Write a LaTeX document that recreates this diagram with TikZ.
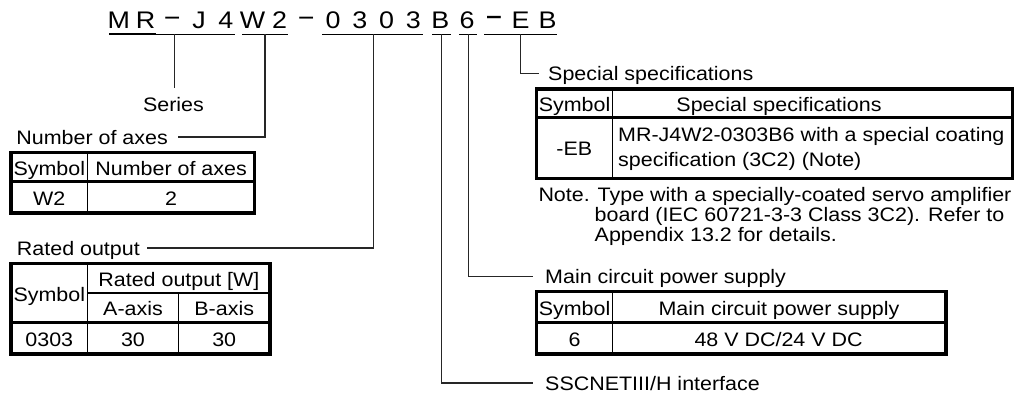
\documentclass[tikz,border=0pt]{standalone}
\usepackage{fontspec}
\usepackage{graphicx}
\setmainfont[FakeStretch=1.1]{Liberation Sans}
\newfontfamily\titlefont[FakeStretch=1.12]{Liberation Sans}
\newcommand{\mtc}[1]{\makebox[26.8pt]{#1}}
\newcommand{\mtdash}{\makebox[26.8pt]{\raisebox{4.2pt}{\scalebox{2.1}[1]{-}}}}
\newcommand{\mtdashb}{\makebox[26.8pt]{\raisebox{2.6pt}{\scalebox{2.1}[1.25]{-}}}}
\begin{document}
\begin{tikzpicture}[x=1pt,y=-1pt,
  conn/.style={draw=black!85, line width=1.3pt},
  uline/.style={line width=1.4pt},
  ulthick/.style={line width=2.4pt},
  outerbox/.style={line width=3.5pt, line join=miter},
  thickdiv/.style={line width=3pt},
  thindiv/.style={line width=1.3pt},
  txt/.style={inner sep=0pt, anchor=base, font=\fontsize{19.5pt}{25pt}\selectfont},
  ltxt/.style={inner sep=0pt, anchor=base west, font=\fontsize{19.5pt}{25pt}\selectfont},
  lblw/.style={inner ysep=0pt, inner xsep=10pt, text height=14pt, text depth=0pt, anchor=base west, font=\fontsize{19.5pt}{25pt}\selectfont},
  lble/.style={inner ysep=0pt, inner xsep=10pt, text height=14pt, text depth=0pt, anchor=base east, font=\fontsize{19.5pt}{25pt}\selectfont}
]
\useasboundingbox (0,0) rectangle (1019,396);

% Title
\node[inner sep=0pt, anchor=base west, font=\titlefont\fontsize{24pt}{24pt}\selectfont] (title) at (105.1,28.3)
 {\mtc{M}\mtc{R}\mtdash\mtc{J}\mtc{4}\mtc{W}\mtc{2}\mtdash\mtc{0}\mtc{3}\mtc{0}\mtc{3}\mtc{B}\mtc{6}\mtdashb\mtc{E}\mtc{B}};

% underlines
\draw[uline] (109,34.3) -- (235,34.3);
\draw[ulthick] (109,34.3) -- (156,34.3);
\draw[uline] (242,34.3) -- (288,34.3);
\draw[uline] (322,34.3) -- (423,34.3);
\draw[uline] (432,34.3) -- (451,34.3);
\draw[uline] (459,34.3) -- (477,34.3);
\draw[uline] (484,34.3) -- (557,34.3);

\coordinate (uSer) at (174.3,34.3);
\coordinate (uAx) at (265,34.3);
\coordinate (uOut) at (373.3,34.3);
\coordinate (uIf) at (441.7,34.3);
\coordinate (uPs) at (468.3,34.3);
\coordinate (uSp) at (520.7,34.3);

% labels
\node[inner xsep=0pt, inner ysep=9pt, text height=14pt, text depth=0pt, anchor=base, font=\fontsize{19.5pt}{25pt}\selectfont] (series) at (173.5,111) {Series};
\node[lble] (noa) at (178,144) {Number of axes};
\node[lble, inner xsep=7pt] (rol) at (147,255) {Rated output};
\node[lblw, inner xsep=9pt] (spl) at (539,80.7) {Special specifications};
\node[lblw, inner xsep=12pt] (mcl) at (533,283.3) {Main circuit power supply};
\node[lblw, inner xsep=12pt] (ifl) at (533,390) {SSCNETIII/H interface};

% connectors
\draw[conn] (uSer) -- (uSer |- series.north);
\draw[conn] (uAx) |- (noa.east);
\draw[conn] (uOut) |- (rol.east);
\draw[conn, line width=1.1pt] (uSp) |- (spl.west);
\draw[conn] (uPs) |- (mcl.west);
\draw[conn] (uIf) |- (ifl.west);

% Table 1: number of axes
\draw[thindiv] (87.7,152.5) -- (87.7,213);
\draw[thickdiv] (11,181.5) -- (254.5,181.5);
\draw[outerbox] (11,152.5) rectangle (254.5,213);
\node[txt] (t1h1) at (49.3,175) {Symbol};
\node[txt] (t1h2) at (171.1,175) {Number of axes};
\node[txt] (t1c1) at (49.3,205.3) {W2};
\node[txt] (t1c2) at (171.1,205.3) {2};

% Table 2: rated output
\draw[thindiv] (87.7,263.5) -- (87.7,354);
\draw[thindiv] (87.7,293) -- (270,293);
\draw[thindiv] (178.3,293) -- (178.3,354);
\draw[thickdiv] (11,322.5) -- (270,322.5);
\draw[outerbox] (11,263.5) rectangle (270,354);
\node[txt] (t2h1) at (49.3,301.5) {Symbol};
\node[txt] (t2h2) at (178.9,286.5) {Rated output [W]};
\node[txt] (t2a) at (133,315.8) {A-axis};
\node[txt] (t2b) at (224.2,315.8) {B-axis};
\node[txt] (t2c1) at (49.3,346.3) {0303};
\node[txt] (t2c2) at (133,346.3) {30};
\node[txt] (t2c3) at (224.2,346.3) {30};

% Table 3: special specifications
\draw[thindiv] (612.7,89.2) -- (612.7,178.5);
\draw[thickdiv] (536.5,117.2) -- (1012.3,117.2);
\draw[outerbox] (536.5,89.2) rectangle (1012.3,178.5);
\node[txt] (t3h1) at (574.6,111) {Symbol};
\node[txt] (t3h2) at (779,111) {Special specifications};
\node[txt] (t3c1) at (574.3,155.5) {-EB};
\node[ltxt] (t3c2a) at (618,141) {MR-J4W2-0303B6 with a special coating};
\node[ltxt] (t3c2b) at (618,166.3) {specification (3C2) (Note)};

% Note
\node[ltxt] (note1) at (538.3,201.5) {Note. Type with a specially-coated servo amplifier};
\node[ltxt] (note2) at (594.5,221.5) {board (IEC 60721-3-3 Class 3C2). Refer to};
\node[ltxt] (note3) at (594.5,241.5) {Appendix 13.2 for details.};

% Table 4: main circuit power supply
\draw[thindiv] (612.7,291.7) -- (612.7,354);
\draw[thickdiv] (536.5,322.3) -- (946,322.3);
\draw[outerbox] (536.5,291.7) rectangle (946,354);
\node[txt] (t4h1) at (574.6,315) {Symbol};
\node[txt] (t4h2) at (779,315) {Main circuit power supply};
\node[txt] (t4c1) at (574.6,346) {6};
\node[txt] (t4c2) at (778.6,346) {48 V DC/24 V DC};
\end{tikzpicture}
\end{document}
